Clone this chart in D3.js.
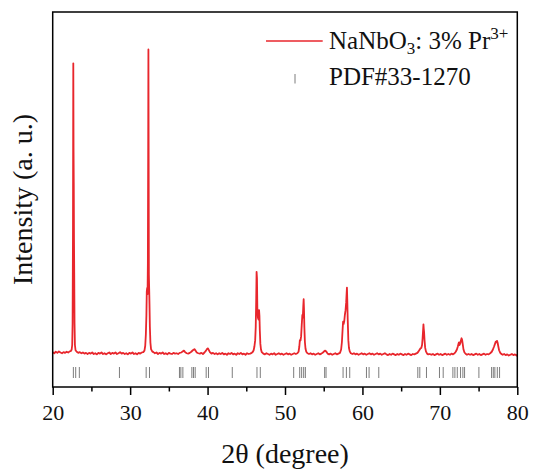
<!DOCTYPE html>
<html>
<head>
<meta charset="utf-8">
<script src="https://cdn.jsdelivr.net/npm/d3@7/dist/d3.min.js"></script>
<style>
  html, body { margin: 0; padding: 0; background: #fff; }
  svg { display: block; }
  text { font-family: "Liberation Serif", "Times New Roman", serif; fill: #111; }
</style>
</head>
<body>
<svg id="chart" width="534" height="471"></svg>
<script>
// Measured XRD pattern of NaNbO3: 3% Pr3+ as [2θ (degree), intensity (a. u.)]
const pattern = [
  [20.0, 93], [20.2, 90], [20.4, 94], [20.6, 91], [20.8, 95], [21.0, 92], [21.2, 90], [21.4, 93],
  [21.6, 91], [21.8, 94], [22.0, 92], [22.2, 95], [22.35, 96], [22.45, 100], [22.52, 112], [22.57, 170],
  [22.62, 420], [22.66, 863], [22.69, 640], [22.72, 544], [22.75, 392], [22.78, 304], [22.82, 170],
  [22.87, 112], [22.95, 98], [23.1, 94], [23.3, 91], [23.5, 93], [23.7, 90], [23.9, 92], [24.1, 89],
  [24.3, 91], [24.5, 88], [24.7, 91], [24.9, 89], [25.1, 92], [25.3, 88], [25.5, 90], [25.7, 87],
  [25.9, 91], [26.1, 89], [26.3, 92], [26.5, 88], [26.7, 90], [26.9, 87], [27.1, 90], [27.3, 92],
  [27.5, 88], [27.7, 91], [27.9, 89], [28.1, 92], [28.3, 88], [28.5, 90], [28.7, 93], [28.9, 89],
  [29.1, 91], [29.3, 88], [29.5, 90], [29.7, 87], [29.9, 91], [30.1, 89], [30.3, 92], [30.5, 88],
  [30.7, 90], [30.9, 87], [31.1, 91], [31.3, 89], [31.5, 92], [31.7, 93], [31.85, 97], [31.95, 110],
  [32.03, 140], [32.1, 190], [32.15, 255], [32.2, 264], [32.25, 248], [32.29, 330], [32.33, 620],
  [32.36, 900], [32.39, 610], [32.42, 300], [32.46, 262], [32.5, 220], [32.55, 160], [32.62, 118],
  [32.7, 101], [32.85, 95], [33.0, 93], [33.2, 90], [33.4, 92], [33.6, 88], [33.8, 91], [34.0, 89],
  [34.2, 92], [34.4, 88], [34.6, 90], [34.8, 87], [35.0, 91], [35.2, 89], [35.4, 88], [35.6, 91],
  [35.8, 89], [36.0, 90], [36.2, 88], [36.4, 91], [36.6, 92], [36.8, 95], [36.95, 97], [37.1, 93],
  [37.3, 90], [37.5, 89], [37.7, 91], [37.9, 94], [38.1, 98], [38.3, 101], [38.45, 97], [38.6, 92],
  [38.8, 90], [39.0, 89], [39.2, 91], [39.4, 88], [39.6, 92], [39.8, 97], [39.95, 102], [40.05, 103],
  [40.15, 99], [40.3, 93], [40.5, 89], [40.7, 91], [40.9, 88], [41.1, 90], [41.3, 87], [41.5, 90],
  [41.7, 88], [41.9, 91], [42.1, 87], [42.3, 89], [42.5, 86], [42.7, 90], [42.9, 88], [43.1, 91],
  [43.3, 87], [43.5, 89], [43.7, 86], [43.9, 90], [44.1, 88], [44.3, 91], [44.5, 87], [44.7, 89],
  [44.9, 86], [45.1, 90], [45.3, 88], [45.5, 89], [45.7, 91], [45.85, 94], [45.95, 98], [46.05, 108],
  [46.15, 125], [46.22, 160], [46.28, 230], [46.33, 307], [46.38, 290], [46.43, 210], [46.5, 185],
  [46.58, 180], [46.65, 205], [46.7, 190], [46.75, 150], [46.82, 115], [46.9, 100], [47.0, 93],
  [47.2, 89], [47.4, 87], [47.6, 90], [47.8, 88], [48.0, 86], [48.2, 89], [48.4, 87], [48.6, 90],
  [48.8, 86], [49.0, 88], [49.2, 90], [49.4, 87], [49.6, 89], [49.8, 86], [50.0, 88], [50.2, 90],
  [50.4, 87], [50.6, 89], [50.8, 86], [51.0, 88], [51.2, 90], [51.4, 88], [51.6, 90], [51.75, 94],
  [51.85, 108], [51.92, 125], [52.0, 124], [52.08, 135], [52.16, 165], [52.24, 192], [52.3, 185],
  [52.36, 215], [52.41, 234], [52.45, 210], [52.5, 160], [52.57, 120], [52.65, 102], [52.75, 94],
  [52.9, 90], [53.1, 88], [53.3, 90], [53.5, 87], [53.7, 89], [53.9, 86], [54.1, 88], [54.3, 90],
  [54.5, 87], [54.7, 89], [54.9, 92], [55.05, 95], [55.2, 97], [55.35, 94], [55.5, 89], [55.7, 87],
  [55.9, 89], [56.1, 86], [56.3, 88], [56.5, 90], [56.7, 87], [56.9, 89], [57.1, 91], [57.25, 100],
  [57.35, 120], [57.43, 150], [57.5, 174], [57.57, 168], [57.65, 175], [57.73, 192], [57.82, 205],
  [57.9, 225], [57.96, 250], [58.0, 265], [58.04, 235], [58.1, 180], [58.18, 125], [58.26, 104],
  [58.36, 95], [58.5, 90], [58.7, 88], [58.9, 90], [59.1, 87], [59.3, 89], [59.5, 86], [59.7, 88],
  [59.9, 90], [60.1, 87], [60.3, 89], [60.5, 86], [60.7, 88], [60.9, 90], [61.1, 87], [61.3, 89],
  [61.5, 86], [61.7, 88], [61.9, 90], [62.1, 87], [62.3, 89], [62.5, 86], [62.7, 88], [62.9, 90],
  [63.1, 87], [63.3, 85], [63.5, 88], [63.7, 86], [63.9, 89], [64.1, 87], [64.3, 85], [64.5, 88],
  [64.7, 86], [64.9, 89], [65.1, 87], [65.3, 85], [65.5, 88], [65.7, 86], [65.9, 89], [66.1, 87],
  [66.3, 85], [66.5, 88], [66.7, 87], [66.9, 89], [67.1, 91], [67.25, 95], [67.4, 100], [67.5, 103],
  [67.6, 104], [67.7, 112], [67.77, 130], [67.83, 150], [67.88, 167], [67.92, 155], [67.96, 147],
  [68.02, 125], [68.1, 105], [68.2, 95], [68.35, 89], [68.5, 87], [68.7, 88], [68.9, 86], [69.1, 88],
  [69.3, 85], [69.5, 87], [69.7, 89], [69.9, 86], [70.1, 88], [70.3, 85], [70.5, 87], [70.7, 89],
  [70.9, 86], [71.1, 88], [71.3, 86], [71.5, 89], [71.7, 87], [71.9, 90], [72.05, 94], [72.2, 100],
  [72.32, 108], [72.4, 115], [72.47, 119], [72.55, 112], [72.63, 116], [72.72, 124], [72.8, 130],
  [72.87, 126], [72.95, 115], [73.05, 100], [73.18, 92], [73.35, 88], [73.5, 86], [73.7, 88],
  [73.9, 86], [74.1, 88], [74.3, 85], [74.5, 87], [74.7, 89], [74.9, 86], [75.1, 88], [75.3, 85],
  [75.5, 87], [75.7, 89], [75.9, 86], [76.1, 88], [76.3, 87], [76.5, 90], [76.7, 94], [76.85, 100],
  [77.0, 108], [77.12, 115], [77.22, 121], [77.3, 119], [77.38, 123], [77.46, 118], [77.55, 108],
  [77.65, 98], [77.8, 91], [77.95, 88], [78.1, 86], [78.3, 88], [78.5, 85], [78.7, 87], [78.9, 84],
  [79.1, 86], [79.3, 88], [79.5, 85], [79.7, 87], [79.9, 84], [80.0, 86]
];

// Standard reflection positions, PDF#33-1270 (2θ, degree)
const pdfLines = [
  22.67, 22.97, 23.44, 28.62, 32.07, 32.50, 36.37, 36.55, 36.81, 37.97, 38.18, 38.40,
  39.82, 40.12, 43.19, 46.38, 46.81, 51.12, 51.90, 52.15, 52.41, 52.63, 55.12, 55.30,
  57.50, 57.93, 58.36, 60.52, 60.86, 62.11, 67.15, 67.41, 68.27, 69.95, 70.43, 71.68,
  71.94, 72.25, 72.67, 72.97, 73.19, 75.04, 76.68, 76.90, 77.10, 77.42, 77.71
];

const majorTicks = [20, 30, 40, 50, 60, 70, 80];
const minorTicks = [25, 35, 45, 55, 65, 75];

const pdfLabel = "PDF#33-1270";
const xTitle = "2θ (degree)";
const yTitle = "Intensity (a. u.)";

const svg = d3.select("#chart");
const plotLeft = 52.7, plotRight = 517.3, plotTop = 12, plotBottom = 387;

const x = d3.scaleLinear().domain([20, 80]).range([plotLeft, plotRight]);
const y = d3.scaleLinear().domain([0, 1000]).range([plotBottom, plotTop]);

// diffraction pattern
svg.append("path")
  .datum(pattern)
  .attr("fill", "none")
  .attr("stroke", "#e8262c")
  .attr("stroke-width", 1.8)
  .attr("stroke-linejoin", "round")
  .attr("d", d3.line().x(d => x(d[0])).y(d => y(d[1])));

// standard card sticks
svg.append("g")
  .selectAll("line")
  .data(pdfLines)
  .join("line")
  .attr("x1", d => x(d)).attr("x2", d => x(d))
  .attr("y1", 367).attr("y2", 378)
  .attr("stroke", "#7d7d7d")
  .attr("stroke-width", 1);

// frame
svg.append("rect")
  .attr("x", plotLeft).attr("y", plotTop)
  .attr("width", plotRight - plotLeft).attr("height", plotBottom - plotTop)
  .attr("fill", "none")
  .attr("stroke", "#000")
  .attr("stroke-width", 1.5);

// bottom axis: major ticks with labels, minor ticks without
const gx = svg.append("g").attr("transform", `translate(0,${plotBottom})`)
  .call(d3.axisBottom(x).tickValues(majorTicks).tickSize(8).tickPadding(9)
    .tickFormat(d3.format("d")));
gx.select(".domain").remove();
gx.selectAll(".tick line").attr("stroke", "#000").attr("stroke-width", 1.5);
gx.selectAll(".tick text")
  .style("font-family", '"Liberation Serif", "Times New Roman", serif')
  .style("font-size", "22px").attr("fill", "#111");

const gm = svg.append("g").attr("transform", `translate(0,${plotBottom})`)
  .call(d3.axisBottom(x).tickValues(minorTicks).tickSize(4.5).tickFormat(""));
gm.select(".domain").remove();
gm.selectAll(".tick line").attr("stroke", "#000").attr("stroke-width", 1.5);

// axis titles
svg.append("text")
  .attr("x", (plotLeft + plotRight) / 2).attr("y", 463)
  .attr("text-anchor", "middle")
  .style("font-size", "28px")
  .text(xTitle);

svg.append("text")
  .attr("transform", `translate(32,${(plotTop + plotBottom) / 2}) rotate(-90)`)
  .attr("text-anchor", "middle")
  .style("font-size", "28px")
  .text(yTitle);

// legend
const lg = svg.append("g");
lg.append("line")
  .attr("x1", 266).attr("x2", 322.7).attr("y1", 41).attr("y2", 41)
  .attr("stroke", "#e8262c").attr("stroke-width", 1.6);
const t1 = lg.append("text").attr("x", 329).attr("y", 48.5).style("font-size", "25px");
t1.append("tspan").text("NaNbO");
t1.append("tspan").attr("dy", 5).style("font-size", "17px").text("3");
t1.append("tspan").attr("dy", -5).text(": 3% Pr");
t1.append("tspan").attr("dy", -10).style("font-size", "17px").text("3+");

lg.append("line")
  .attr("x1", 295).attr("x2", 295).attr("y1", 74).attr("y2", 83.5)
  .attr("stroke", "#7d7d7d").attr("stroke-width", 1);
lg.append("text").attr("x", 329).attr("y", 84.5).style("font-size", "25px").text(pdfLabel);
</script>
</body>
</html>
